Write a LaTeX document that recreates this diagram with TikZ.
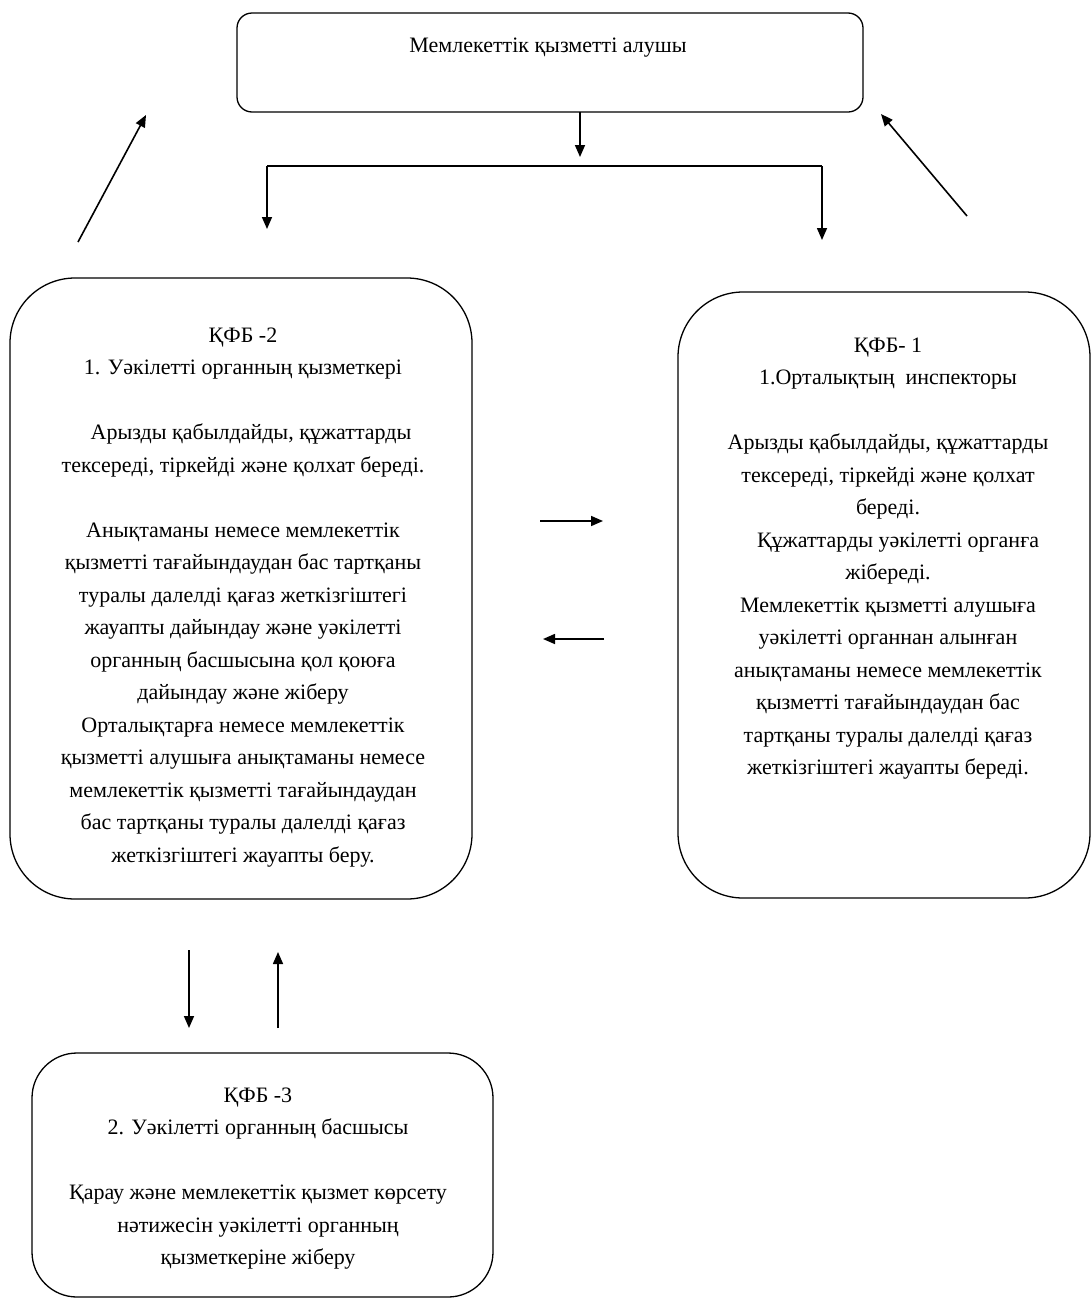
\documentclass[tikz,border=0pt]{standalone}
\usepackage{fontspec}
\setmainfont{Liberation Serif}
\usetikzlibrary{arrows.meta, positioning, calc}

\tikzset{
  block/.style={draw, line width=1.3pt, rounded corners=#1, inner sep=0pt, outer sep=0pt},
  block/.default=60pt,
  blocktext/.style={align=center, inner sep=0pt, anchor=north, font=\fontsize{22}{32.5}\selectfont},
  flow/.style={line width=1.6pt, -{Triangle[length=12pt,width=10pt]}},
}

\begin{document}
\begin{tikzpicture}[x=1pt, y=-1pt]
  \useasboundingbox (0,0) rectangle (1092,1304);

  \node[block=15pt, minimum width=626pt, minimum height=99pt] (alushy) at (550,62.5) {};
  \node[blocktext] (alushytxt) at (548,37.5) {Мемлекеттік қызметті алушы};

  \node[block=65pt, minimum width=462pt, minimum height=621pt] (kfb2) at (241,588.5) {};
  \node[blocktext] (kfb2txt) at (243,327.5) {
    ҚФБ -2\\
    1. Уәкілетті органның қызметкері\\[32.5pt]
    \hspace*{16pt}Арызды қабылдайды, құжаттарды\\
    тексереді, тіркейді және қолхат береді.\\[32.5pt]
    Анықтаманы немесе мемлекеттік\\
    қызметті тағайындаудан бас тартқаны\\
    туралы далелді қағаз жеткізгіштегі\\
    жауапты дайындау және уәкілетті\\
    органның басшысына қол қоюға\\
    дайындау және жіберу\\
    Орталықтарға немесе мемлекеттік\\
    қызметті алушыға анықтаманы немесе\\
    мемлекеттік қызметті тағайындаудан\\
    бас тартқаны туралы далелді қағаз\\
    жеткізгіштегі жауапты беру.
  };

  \node[block=65pt, minimum width=412pt, minimum height=606pt] (kfb1) at (884,595) {};
  \node[blocktext] (kfb1txt) at (888,337.5) {
    ҚФБ- 1\\
    1.Орталықтың\ \ инспекторы\\[32.5pt]
    Арызды қабылдайды, құжаттарды\\
    тексереді, тіркейді және қолхат\\
    береді.\\
    \hspace*{20pt}Құжаттарды уәкілетті органға\\
    жібереді.\\
    Мемлекеттік қызметті алушыға\\
    уәкілетті органнан алынған\\
    анықтаманы немесе мемлекеттік\\
    қызметті тағайындаудан бас\\
    тартқаны туралы далелді қағаз\\
    жеткізгіштегі жауапты береді.
  };

  \node[block=45pt, minimum width=461pt, minimum height=244pt] (kfb3) at (262.5,1175) {};
  \node[blocktext] (kfb3txt) at (258,1087.5) {
    ҚФБ -3\\
    2. Уәкілетті органның басшысы\\[32.5pt]
    Қарау және мемлекеттік қызмет көрсету\\
    нәтижесін уәкілетті органның\\
    қызметкеріне жіберу
  };

  \coordinate (busM) at (580,157);
  \coordinate (busL) at (267,166);
  \coordinate (busR) at (822,166);
  \coordinate (dropL) at (267,229);
  \coordinate (dropR) at (822,240);
  \draw[flow] (alushy.south -| busM) -- (busM);
  \draw[line width=1.6pt] (busL) -- (busR);
  \draw[flow] (busL) -- (dropL);
  \draw[flow] (busR) -- (dropR);

  \coordinate (backL) at (78,242);
  \coordinate (backLtip) at (146,115);
  \coordinate (backR) at (967,216);
  \coordinate (backRtip) at (881,114);
  \draw[flow] (backL) -- (backLtip);
  \draw[flow] (backR) -- (backRtip);

  \coordinate (toK1a) at (540,521);
  \coordinate (toK1b) at (603,521);
  \coordinate (toK2a) at (604,639);
  \coordinate (toK2b) at (543,639);
  \draw[flow] (toK1a) -- (toK1b);
  \draw[flow] (toK2a) -- (toK2b);

  \coordinate (toK3a) at (189,950);
  \coordinate (toK3b) at (189,1028);
  \coordinate (fromK3a) at (278,1028);
  \coordinate (fromK3b) at (278,952);
  \draw[flow] (toK3a) -- (toK3b);
  \draw[flow] (fromK3a) -- (fromK3b);
\end{tikzpicture}
\end{document}
